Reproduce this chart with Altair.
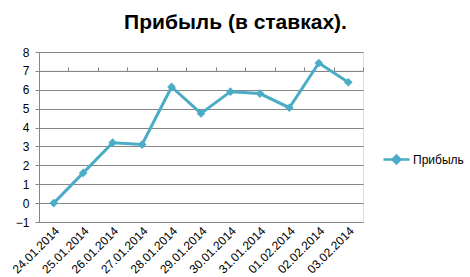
import altair as alt
import pandas as pd

dates = ["24.01.2014", "25.01.2014", "26.01.2014", "27.01.2014", "28.01.2014",
         "29.01.2014", "30.01.2014", "31.01.2014", "01.02.2014", "02.02.2014", "03.02.2014"]
profit = [0.0, 1.6, 3.2, 3.1, 6.15, 4.75, 5.9, 5.8, 5.05, 7.42, 6.4]
series_name = "Прибыль"
title_text = "Прибыль (в ставках)."
y_ticks = [-1, 0, 1, 2, 3, 4, 5, 6, 7, 8]

df = pd.DataFrame({"date": dates, "value": profit, "series": series_name})

TEAL = "#4BACC6"
GRID = "#868686"
FONT = "Liberation Sans"

x_enc_labels = alt.X(
    "date:N", sort=dates, bandPosition=0.5, title=None,
    scale=alt.Scale(type="band", paddingInner=0, paddingOuter=0),
    axis=alt.Axis(labelAngle=-45, domain=False, ticks=False, grid=False,
                  labelFont=FONT, labelFontSize=12, labelColor="#000000",
                  labelPadding=3),
)
x_enc_zero = alt.X(
    "date:N", sort=dates, bandPosition=0.5, title=None,
    scale=alt.Scale(type="band", paddingInner=0, paddingOuter=0),
    axis=alt.Axis(labels=False, domain=True, domainColor=GRID, domainWidth=1,
                  ticks=True, tickColor=GRID, tickSize=4, tickBand="extent",
                  grid=False, offset=-18.9),
)
y_axis = alt.Axis(values=y_ticks, grid=True, gridColor=GRID, gridWidth=1,
                  domain=True, domainColor=GRID, tickColor=GRID, tickSize=4,
                  labelFont=FONT, labelFontSize=12, labelColor="#000000",
                  labelPadding=6, labelOverlap=False, tickCount=10)
y_enc = alt.Y(
    "value:Q", title=None,
    scale=alt.Scale(domain=[-1, 8], nice=False, zero=False),
    axis=y_axis,
)

diamond_line = "M-1,0L1,0M0,-0.3L0.3,0L0,0.3L-0.3,0Z"

line = alt.Chart(df).mark_line(strokeWidth=3).encode(
    x=x_enc_labels,
    y=y_enc,
    color=alt.Color("series:N", scale=alt.Scale(range=[TEAL]),
                    legend=alt.Legend(title=None, orient="none", legendX=343, legendY=93,
                                      symbolType=diamond_line, symbolSize=676,
                                      symbolStrokeWidth=2.5, symbolFillColor=TEAL,
                                      symbolStrokeColor=TEAL,
                                      labelFont=FONT, labelFontSize=12,
                                      labelColor="#000000", labelOffset=2)),
)
points = alt.Chart(df).mark_point(shape="diamond", filled=True, size=75, opacity=1).encode(
    x=x_enc_zero,
    y=y_enc,
    color=alt.Color("series:N", legend=None),
)

chart = alt.layer(line, points).resolve_axis(x="independent").properties(
    width=324, height=170,
    padding={"left": 39, "top": 52, "right": 107, "bottom": 55},
    autosize=alt.AutoSizeParams(type="none"),
    title=alt.TitleParams(title_text, font=FONT, fontSize=21, fontWeight="bold",
                          color="#000000", anchor="middle", frame="group",
                          baseline="alphabetic", offset=-4, dx=34.5),
).configure_view(stroke=None).configure(background="#ffffff")

chart.save("out.html", embed_options={"renderer": "svg", "actions": False})
